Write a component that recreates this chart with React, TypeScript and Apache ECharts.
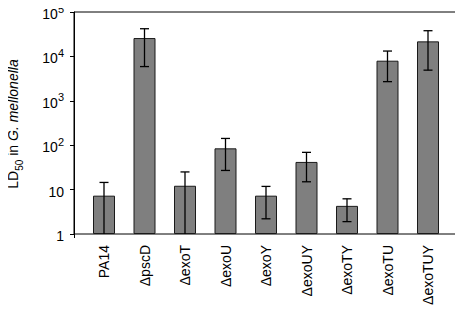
import React, { useEffect, useRef } from "react";
import * as echarts from "echarts";

const categories = ["PA14", "ΔpscD", "ΔexoT", "ΔexoU", "ΔexoY", "ΔexoUY", "ΔexoTY", "ΔexoTU", "ΔexoTUY"];
const ld50 = [7.3, 25900, 12.2, 85, 7.3, 42, 4.3, 8000, 21800];
const errLow = [1, 5900, 1, 27, 2.2, 15, 1.9, 2700, 4900];
const errHigh = [14.5, 42000, 25, 142, 11.8, 69, 6.2, 13200, 37900];
const yTicks = [1, 10, 100, 1000, 10000, 100000];

const FONT = "Liberation Sans";

export default function App() {
  const ref = useRef<HTMLDivElement>(null);
  useEffect(() => {
    if (!ref.current) return;
    const chart = echarts.init(ref.current, undefined, { renderer: "svg" });
    const errData = categories.map((_, i) => [i, errLow[i], errHigh[i]]);
    chart.setOption({
      animation: false,
      textStyle: { fontFamily: FONT },
      grid: [
        { left: 74, top: 12, width: 385, height: 222, show: true, borderColor: "#000", borderWidth: 1, backgroundColor: "transparent" },
        { left: 83.75, top: 12, width: 364.5, height: 222 },
      ],
      xAxis: [
        {
          gridIndex: 0,
          type: "value",
          min: 0,
          max: 1,
          splitLine: { show: false },
          axisLine: { show: false },
          axisLabel: { show: false },
          axisTick: { show: true, length: 4, customValues: [0], lineStyle: { color: "#000" } },
        },
        {
          gridIndex: 1,
          type: "category",
          data: categories,
          axisLine: { show: false },
          axisTick: { show: false },
          axisLabel: { rotate: 90, margin: 11, fontSize: 14, color: "#000", fontFamily: FONT },
        },
      ],
      yAxis: [
        {
          gridIndex: 0,
          type: "log",
          logBase: 10,
          min: yTicks[0],
          max: yTicks[yTicks.length - 1],
          splitLine: { show: false },
          axisLine: { show: true, lineStyle: { color: "#000", width: 1 } },
          axisTick: { show: true, inside: false, length: 4, lineStyle: { color: "#000" } },
          minorTick: { show: false },
          axisLabel: {
            margin: 10,
            color: "#000",
            fontFamily: FONT,
            fontSize: 14,
            formatter: (v: number) => {
              const e = Math.round(Math.log10(v));
              if (e === 0) return "{b|1}";
              if (e === 1) return "{b|10}";
              return "{b|10}{s|" + e + "}";
            },
            rich: {
              b: { fontSize: 14, lineHeight: 18, verticalAlign: "bottom", color: "#000", fontFamily: FONT },
              s: { fontSize: 11, lineHeight: 11, verticalAlign: "top", color: "#000", fontFamily: FONT },
            },
          },
        },
        { gridIndex: 1, type: "log", logBase: 10, min: yTicks[0], max: yTicks[yTicks.length - 1], show: false },
      ],
      series: [
        {
          type: "bar",
          xAxisIndex: 1,
          yAxisIndex: 1,
          data: ld50,
          barWidth: 22,
          itemStyle: { color: "#7f7f7f", borderColor: "#1a1a1a", borderWidth: 1 },
        },
        {
          type: "custom",
          xAxisIndex: 1,
          yAxisIndex: 1,
          data: errData,
          encode: { x: 0, y: [1, 2] },
          z: 10,
          renderItem: (params: any, api: any) => {
            const i = api.value(0);
            const lo = api.coord([i, api.value(1)]);
            const hi = api.coord([i, api.value(2)]);
            const hw = 4.5;
            const style = { stroke: "#000", lineWidth: 1.3 };
            const children: any[] = [
              { type: "line", shape: { x1: lo[0], y1: lo[1], x2: hi[0], y2: hi[1] }, style },
              { type: "line", shape: { x1: hi[0] - hw, y1: hi[1], x2: hi[0] + hw, y2: hi[1] }, style },
            ];
            if (api.value(1) > 1) {
              children.push({ type: "line", shape: { x1: lo[0] - hw, y1: lo[1], x2: lo[0] + hw, y2: lo[1] }, style });
            }
            return { type: "group", children };
          },
        },
      ],
      graphic: [
        {
          type: "text",
          x: 14,
          y: 124,
          rotation: Math.PI / 2,
          style: {
            text: "{a|LD}{sub|50}{a| in }{i|G. mellonella}",
            align: "center",
            verticalAlign: "middle",
            fill: "#000",
            rich: {
              a: { fontSize: 14, lineHeight: 16, verticalAlign: "top", fontFamily: FONT, fill: "#000" },
              sub: { fontSize: 10, lineHeight: 10, padding: [8, 0, 0, 0], verticalAlign: "top", fontFamily: FONT, fill: "#000" },
              i: { fontSize: 14, lineHeight: 16, verticalAlign: "top", fontStyle: "italic", fontFamily: FONT, fill: "#000" },
            },
          },
        },
      ],
    });
    return () => chart.dispose();
  }, []);
  return <div ref={ref} style={{ width: 463, height: 313, margin: -8 }} />;
}
